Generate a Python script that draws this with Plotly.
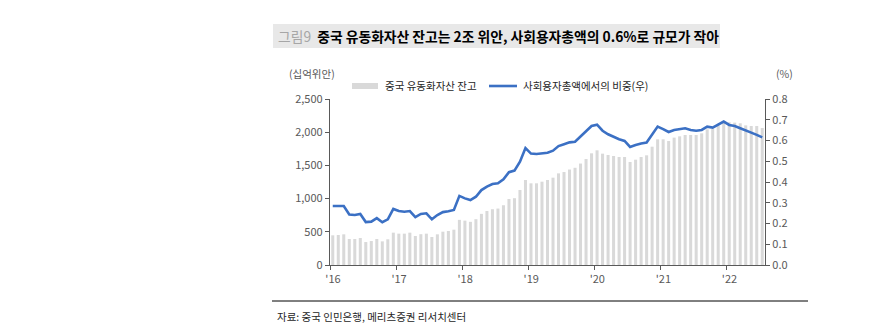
import plotly.graph_objects as go

# Monthly data Jan 2016 .. Jul 2022
months = [f"{y}-{m:02d}" for y in range(2016, 2023) for m in range(1, 13)][:79]

balance = [447, 452, 462, 392, 392, 407, 346, 361, 392, 356, 387, 487,
           472, 472, 487, 437, 464, 472, 422, 462, 502, 512, 532, 680,
           668, 650, 690, 770, 813, 840, 850, 900, 994, 1006, 1130, 1280,
           1230, 1230, 1255, 1280, 1315, 1380, 1400, 1438, 1464, 1528, 1596, 1682,
           1727, 1677, 1657, 1642, 1627, 1627, 1551, 1586, 1627, 1652, 1782, 1893,
           1893, 1867, 1918, 1938, 1958, 1958, 1958, 1983, 2043, 2048, 2103, 2144,
           2149, 2144, 2134, 2103, 2093, 2093, 2063]

share = [0.284, 0.284, 0.284, 0.243, 0.241, 0.246, 0.207, 0.209, 0.226, 0.206, 0.220, 0.270,
         0.260, 0.257, 0.260, 0.231, 0.246, 0.249, 0.220, 0.241, 0.255, 0.259, 0.265, 0.333,
         0.321, 0.313, 0.329, 0.361, 0.378, 0.390, 0.394, 0.413, 0.447, 0.455, 0.498, 0.564,
         0.537, 0.535, 0.537, 0.541, 0.551, 0.573, 0.582, 0.591, 0.594, 0.618, 0.643, 0.670,
         0.676, 0.647, 0.630, 0.617, 0.606, 0.598, 0.569, 0.578, 0.586, 0.590, 0.627, 0.667,
         0.655, 0.641, 0.651, 0.655, 0.659, 0.651, 0.647, 0.651, 0.667, 0.662, 0.676, 0.691,
         0.675, 0.670, 0.659, 0.647, 0.638, 0.627, 0.615]

year_labels = ["'16", "'17", "'18", "'19", "'20", "'21", "'22"]

x_idx = list(range(len(months)))
year_ticks = [12 * k - 0.5 for k in range(len(year_labels))]

FONT = "Noto Sans CJK KR, Noto Sans, sans-serif"
TICK_COLOR = "#595959"
AXIS_COLOR = "#595959"
BAR_COLOR = "#d9d9d9"
LINE_COLOR = "#3b70c4"

fig = go.Figure()
fig.add_trace(go.Bar(x=x_idx, y=balance, name="중국 유동화자산 잔고",
                     marker=dict(color=BAR_COLOR, line=dict(width=0)),
                     width=0.55, yaxis="y", showlegend=False,
                     customdata=months))
fig.add_trace(go.Scatter(x=x_idx, y=share, name="사회용자총액에서의 비중(우)",
                         mode="lines", line=dict(color=LINE_COLOR, width=2.6),
                         yaxis="y2", showlegend=False, customdata=months))

fig.update_layout(
    width=890, height=331,
    margin=dict(l=330, r=125, t=99, b=66),
    paper_bgcolor="white", plot_bgcolor="white",
    font=dict(family=FONT, size=11, color=TICK_COLOR),
    bargap=0.45,
    xaxis=dict(range=[-0.5, 78.5], tickmode="array", tickvals=year_ticks,
               ticktext=year_labels, showgrid=False, zeroline=False,
               showline=True, linecolor=AXIS_COLOR, linewidth=1.2,
               ticks="outside", ticklen=4, tickcolor=AXIS_COLOR,
               ticklabelshift=3,
               tickfont=dict(size=11, color=TICK_COLOR, family=FONT)),
    yaxis=dict(range=[0, 2500], dtick=500, tickformat=",", showgrid=False,
               zeroline=False, showline=True, linecolor=AXIS_COLOR, linewidth=1.2,
               ticks="outside", ticklen=4, tickcolor=AXIS_COLOR,
               tickfont=dict(size=11, color=TICK_COLOR, family=FONT)),
    yaxis2=dict(range=[0, 0.8], dtick=0.1, tickformat=".1f", overlaying="y",
                side="right", showgrid=False, zeroline=False, showline=True,
                linecolor=AXIS_COLOR, linewidth=1.2, ticks="outside", ticklen=4,
                tickcolor=AXIS_COLOR,
                tickfont=dict(size=11, color=TICK_COLOR, family=FONT)),
)

# plot-area geometry helpers (paper coords from pixel positions of frame elements)
L, R, T, B = 330, 765, 99, 265
def px(xp):
    return (xp - L) / (R - L)
def py(yp):
    return (B - yp) / (B - T)

# title band
fig.add_shape(type="rect", xref="paper", yref="paper",
              x0=px(273), x1=px(720), y0=py(48), y1=py(24),
              fillcolor="#e8e8e8", line=dict(width=0), layer="below")
fig.add_annotation(xref="paper", yref="paper", x=px(276), y=py(36),
                   xanchor="left", yanchor="middle", showarrow=False,
                   text="<span style='color:#a6a6a6'>그림9</span>  "
                        "<b>중국 유동화자산 잔고는 2조 위안, 사회용자총액의 0.6%로 규모가 작아</b>",
                   font=dict(family=FONT, size=13.8, color="#000000"))

# axis unit labels
fig.add_annotation(xref="paper", yref="paper", x=px(312), y=py(74),
                   xanchor="center", yanchor="middle", showarrow=False,
                   text="(십억위안)", font=dict(family=FONT, size=10.5, color=TICK_COLOR))
fig.add_annotation(xref="paper", yref="paper", x=px(784), y=py(74),
                   xanchor="center", yanchor="middle", showarrow=False,
                   text="(%)", font=dict(family=FONT, size=10.5, color=TICK_COLOR))

# custom legend
fig.add_shape(type="rect", xref="paper", yref="paper",
              x0=px(352), x1=px(378), y0=py(89), y1=py(83),
              fillcolor=BAR_COLOR, line=dict(width=0))
fig.add_annotation(xref="paper", yref="paper", x=px(383), y=py(86),
                   xanchor="left", yanchor="middle", showarrow=False,
                   text="중국 유동화자산 잔고",
                   font=dict(family=FONT, size=10.5, color="#262626"))
fig.add_shape(type="line", xref="paper", yref="paper",
              x0=px(489), x1=px(517), y0=py(86), y1=py(86),
              line=dict(color=LINE_COLOR, width=2.6))
fig.add_annotation(xref="paper", yref="paper", x=px(521), y=py(86),
                   xanchor="left", yanchor="middle", showarrow=False,
                   text="사회용자총액에서의 비중(우)",
                   font=dict(family=FONT, size=10.5, color="#262626"))

# bottom rule and source
fig.add_shape(type="line", xref="paper", yref="paper",
              x0=px(272), x1=px(808), y0=py(301), y1=py(301),
              line=dict(color="#000000", width=1))
fig.add_annotation(xref="paper", yref="paper", x=px(275), y=py(316),
                   xanchor="left", yanchor="middle", showarrow=False,
                   text="자료: 중국 인민은행, 메리츠증권 리서치센터",
                   font=dict(family=FONT, size=10.5, color="#262626"))

fig.write_html("out.html")
